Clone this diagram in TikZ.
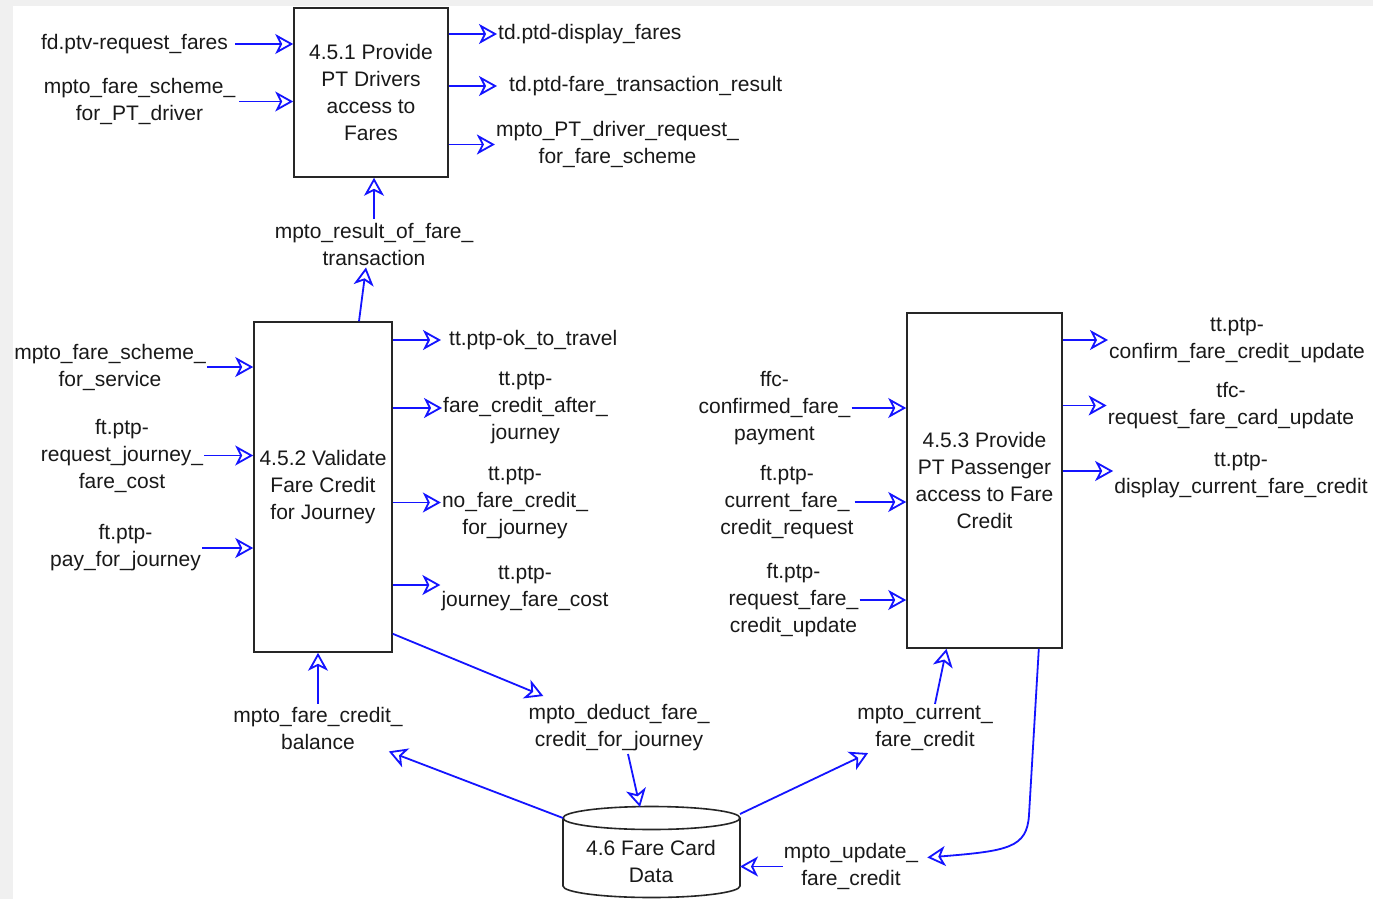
\documentclass[tikz,border=0pt]{standalone}
\usepackage{fontspec}
\setmainfont{Liberation Sans}
\usetikzlibrary{arrows.meta}
\definecolor{flowblue}{RGB}{20,20,255}
\definecolor{bggray}{RGB}{240,240,240}
\begin{document}
\begin{tikzpicture}[x=1pt,y=-1pt,
  txt/.style={font=\fontsize{21}{27}\selectfont, align=center, inner sep=1pt, text=black!90},
  proc/.style={txt, draw=black!85, line width=1.6pt},
  flow/.style={draw=flowblue, line width=1.8pt, -{Stealth[open, length=18pt, width=20pt, inset=5pt]}},
  shape line/.style={draw=black!85, line width=1.6pt}
  ]
\useasboundingbox (0,0) rectangle (1373,899);
\clip (0,0) rectangle (1373,899);
\fill[bggray] (0,0) rectangle (1373,899);
\fill[white] (13,6) rectangle (1373,899);

% processes
\node[proc, minimum width=154pt, minimum height=169pt] (p451) at (371,92.5) {4.5.1 Provide\\PT Drivers\\access to\\Fares};
\node[proc, minimum width=138pt, minimum height=330pt] (p452) at (323,487) {4.5.2 Validate\\Fare Credit\\for Journey};
\node[proc, minimum width=155pt, minimum height=335pt] (p453) at (984.5,480.5) {4.5.3 Provide\\PT Passenger\\access to Fare\\Credit};

% data store
\coordinate (cylNW) at (563,818);
\coordinate (cylNE) at (740,818);
\coordinate (cyltop) at (640,807);
\draw[shape line] (651.5,818) ellipse [x radius=88.5, y radius=11.5];
\draw[shape line] (563,818) -- (563,886) arc [start angle=180, end angle=0, x radius=88.5, y radius=11.5] -- (740,818);
\node[txt] (store) at (651,861) {4.6 Fare Card\\Data};

% labels around 4.5.1
\node[txt] (L1) at (134.5,44) {fd.ptv-request\_fares};
\node[txt] (L2) at (139.5,101.5) {mpto\_fare\_scheme\_\\for\_PT\_driver};
\node[txt, anchor=west] (O1) at (497,34) {td.ptd-display\_fares};
\node[txt, anchor=west] (O2) at (508,86) {td.ptd-fare\_transaction\_result};
\node[txt] (O3) at (617.5,144.5) {mpto\_PT\_driver\_request\_\\for\_fare\_scheme};
\node[txt] (R1) at (374,244) {mpto\_result\_of\_fare\_\\transaction};

% labels around 4.5.2
\node[txt] (A1) at (110,367) {mpto\_fare\_scheme\_\\for\_service};
\node[txt] (A2) at (122,455.5) {ft.ptp-\\request\_journey\_\\fare\_cost};
\node[txt] (A3) at (125.5,548) {ft.ptp-\\pay\_for\_journey};
\node[txt, anchor=west] (B1) at (448,340) {tt.ptp-ok\_to\_travel};
\node[txt] (B2) at (525.5,408) {tt.ptp-\\fare\_credit\_after\_\\journey};
\node[txt] (B3) at (515,502.5) {tt.ptp-\\no\_fare\_credit\_\\for\_journey};
\node[txt] (B4) at (525,588) {tt.ptp-\\journey\_fare\_cost};

% labels around 4.5.3
\node[txt] (C1) at (774.5,408) {ffc-\\confirmed\_fare\_\\payment};
\node[txt] (C2) at (787,502) {ft.ptp-\\current\_fare\_\\credit\_request};
\node[txt] (C3) at (793.5,600) {ft.ptp-\\request\_fare\_\\credit\_update};
\node[txt] (D1) at (1237,340) {tt.ptp-\\confirm\_fare\_credit\_update};
\node[txt] (D2) at (1231,405.5) {tfc-\\request\_fare\_card\_update};
\node[txt] (D3) at (1241,475) {tt.ptp-\\display\_current\_fare\_credit};

% bottom labels
\node[txt] (E1) at (318,728) {mpto\_fare\_credit\_\\balance};
\node[txt] (E2) at (619,727.5) {mpto\_deduct\_fare\_\\credit\_for\_journey};
\node[txt] (E3) at (925,728.5) {mpto\_current\_\\fare\_credit};
\node[txt] (E4) at (851,866.5) {mpto\_update\_\\fare\_credit};

% flows 4.5.1
\draw[flow] ([xshift=6pt]L1.east) -- (L1.east -| p451.west);
\draw[flow] ([xshift=3pt]L2.east) -- (L2.east -| p451.west);
\draw[flow] (p451.east |- O1.west) -- (O1.west);
\draw[flow] (p451.east |- O2.west) -- ([xshift=-11pt]O2.west);
\draw[flow] (p451.east |- O3.west) -- (O3.west);
\draw[flow] ([yshift=3pt]R1.north) -- (R1.north |- p451.south);
\draw[flow] ([xshift=36pt]p452.north) -- ([xshift=-8pt,yshift=-1pt]R1.south);

% flows 4.5.2
\draw[flow] (A1.east) -- (A1.east -| p452.west);
\draw[flow] (A2.east |- A2.center) -- (A2.center -| p452.west);
\draw[flow] (A3.east) -- (A3.east -| p452.west);
\draw[flow] (p452.east |- B1.west) -- ([xshift=-7pt]B1.west);
\draw[flow] (p452.east |- B2.west) -- (B2.west);
\draw[flow] (p452.east |- B3.west) -- (B3.west);
\draw[flow] ([yshift=3pt]p452.east |- B4.west) -- ([yshift=3pt]B4.west);

% flows 4.5.3
\draw[flow] (C1.east) -- (C1.east -| p453.west);
\draw[flow] (C2.east) -- (C2.east -| p453.west);
\draw[flow] (C3.east) -- (C3.east -| p453.west);
\draw[flow] (p453.east |- D1.west) -- (D1.west);
\draw[flow] (p453.east |- D2.west) -- (D2.west);
\draw[flow] ([yshift=4pt]p453.east |- D3.west) -- ([yshift=4pt]D3.west);

% bottom flows
\draw[flow] ([yshift=2pt]E1.north) -- (E1.north |- p452.south);
\draw[flow] ([yshift=19pt]p452.south east) -- ([xshift=16pt,yshift=7pt]E2.north west);
\draw[flow] ([xshift=9pt,yshift=-2pt]E2.south) -- (cyltop);
\draw[flow] (cylNW) -- ([xshift=-15pt,yshift=-1pt]E1.south east);
\draw[flow] ([yshift=4pt]cylNE) -- ([xshift=12pt,yshift=-1pt]E3.south west);
\draw[flow] ([xshift=10pt,yshift=1pt]E3.north) -- ([xshift=-38pt]p453.south);
\draw[flow] ([xshift=-24pt]p453.south east) -- (1029,815) .. controls (1027,848) and (1008,851) .. ([xshift=8pt,yshift=9pt]E4.east);
\draw[flow] (E4.west) -- (E4.west -| cylNE);
\end{tikzpicture}
\end{document}
